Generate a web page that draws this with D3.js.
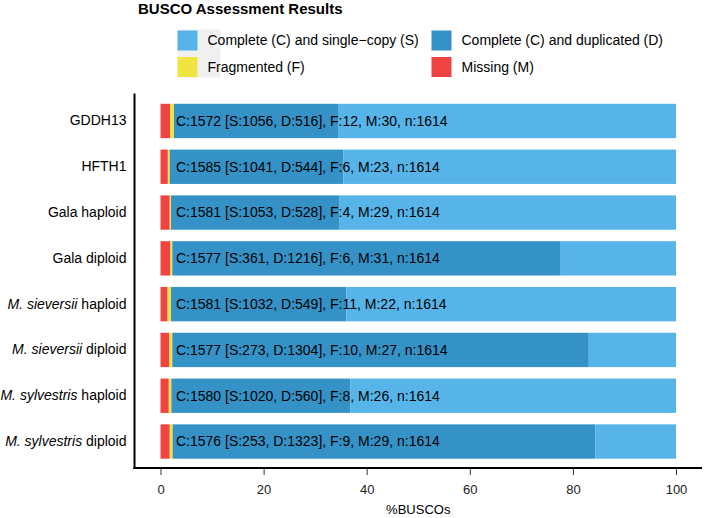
<!DOCTYPE html>
<html>
<head>
<meta charset="utf-8">
<script src="https://cdn.jsdelivr.net/npm/d3@7"></script>
<style>
  html, body { margin: 0; padding: 0; background: #fff; }
  svg { display: block; font-family: "Liberation Sans", Arial, sans-serif; }
</style>
</head>
<body>
<svg id="chart" width="704" height="518"></svg>
<script>
// ---- data ----
const categories = [
  "GDDH13", "HFTH1", "Gala haploid", "Gala diploid",
  "M. sieversii haploid", "M. sieversii diploid",
  "M. sylvestris haploid", "M. sylvestris diploid"
];
const italicParts = ["", "", "", "", "M. sieversii", "M. sieversii", "M. sylvestris", "M. sylvestris"];
const singleCopy = [1056, 1041, 1053, 361, 1032, 273, 1020, 253];
const duplicated = [516, 544, 528, 1216, 549, 1304, 560, 1323];
const fragmented = [12, 6, 4, 6, 11, 10, 8, 9];
const missing = [30, 23, 29, 31, 22, 27, 26, 29];
const totalN = [1614, 1614, 1614, 1614, 1614, 1614, 1614, 1614];
const xTicks = [0, 20, 40, 60, 80, 100];
const seriesKeys = ["M", "F", "D", "S"];
const seriesNames = {
  S: "Complete (C) and single\u2212copy (S)",
  D: "Complete (C) and duplicated (D)",
  F: "Fragmented (F)",
  M: "Missing (M)"
};
const seriesColors = { S: "#56B4E9", D: "#3492C7", F: "#F0E442", M: "#F04442" };

// ---- build table ----
const rows = categories.map((c, i) => ({
  cat: c,
  M: missing[i] / totalN[i] * 100,
  F: fragmented[i] / totalN[i] * 100,
  D: duplicated[i] / totalN[i] * 100,
  S: singleCopy[i] / totalN[i] * 100,
  label: `C:${singleCopy[i] + duplicated[i]} [S:${singleCopy[i]}, D:${duplicated[i]}], F:${fragmented[i]}, M:${missing[i]}, n:${totalN[i]}`
}));
const stacked = d3.stack().keys(seriesKeys)(rows);

const svg = d3.select("#chart");
const x = d3.scaleLinear().domain([0, 100]).range([160.5, 676]);
const y = d3.scaleBand().domain(categories).range([93.5, 469])
  .paddingInner(0.25).paddingOuter(0.225);

// ---- bars ----
svg.append("g").selectAll("g").data(stacked).join("g")
  .attr("fill", d => seriesColors[d.key])
  .selectAll("rect").data(d => d).join("rect")
  .attr("x", d => x(d[0]))
  .attr("width", d => x(d[1]) - x(d[0]))
  .attr("y", d => y(d.data.cat))
  .attr("height", y.bandwidth());

// ---- bar labels ----
svg.append("g").selectAll("text").data(rows).join("text")
  .attr("x", x(3))
  .attr("y", d => y(d.cat) + y.bandwidth() / 2)
  .attr("dy", "0.35em")
  .attr("font-size", 14)
  .attr("fill", "#000")
  .text(d => d.label);

// ---- x axis ----
const xAxisY = 468;
const gx = svg.append("g").attr("transform", `translate(0,${xAxisY})`)
  .call(d3.axisBottom(x).tickValues(xTicks).tickSize(7).tickPadding(10).tickFormat(d3.format("d")));
gx.select(".domain").remove();
gx.selectAll(".tick line").attr("stroke", "#333").attr("stroke-width", 1);
gx.selectAll(".tick text").attr("font-size", 13).attr("fill", "#222")
  .attr("font-family", "Liberation Sans, Arial, sans-serif");

// ---- y axis ----
const gy = svg.append("g").attr("transform", "translate(134.5,0)")
  .call(d3.axisLeft(y).tickSize(0).tickPadding(8));
gy.select(".domain").remove();
gy.selectAll(".tick text").each(function(d, i) {
  const t = d3.select(this);
  const idx = categories.indexOf(d);
  const it = italicParts[idx];
  t.text(null).attr("font-size", 14).attr("fill", "#000")
    .attr("font-family", "Liberation Sans, Arial, sans-serif");
  if (it) {
    t.append("tspan").attr("font-style", "italic").text(it);
    t.append("tspan").text(d.slice(it.length));
  } else {
    t.append("tspan").text(d);
  }
});

// axis lines
svg.append("line").attr("x1", 134.5).attr("x2", 134.5).attr("y1", 93.5).attr("y2", 469)
  .attr("stroke", "#000").attr("stroke-width", 2);
svg.append("line").attr("x1", 133.5).attr("x2", 702).attr("y1", xAxisY).attr("y2", xAxisY)
  .attr("stroke", "#000").attr("stroke-width", 2);

// x title
svg.append("text").attr("x", (x(0) + x(100)) / 2).attr("y", 514)
  .attr("text-anchor", "middle").attr("font-size", 13).attr("fill", "#000")
  .text("%BUSCOs");

// ---- title ----
svg.append("text").attr("x", 138).attr("y", 14)
  .attr("font-size", 15).attr("font-weight", "bold").attr("fill", "#000")
  .text("BUSCO Assessment Results");

// ---- legend ----
const legendItems = [
  { key: "S", col: 0, row: 0 }, { key: "D", col: 1, row: 0 },
  { key: "F", col: 0, row: 1 }, { key: "M", col: 1, row: 1 }
];
const colX = [177.5, 431.5];
const rowY = [30.5, 57];
svg.append("rect").attr("x", 177.5).attr("y", 29.5).attr("width", 43).attr("height", 48)
  .attr("fill", "#f0f0f0");
const lg = svg.append("g").selectAll("g").data(legendItems).join("g")
  .attr("transform", d => `translate(${colX[d.col]},${rowY[d.row]})`);
lg.append("rect").attr("width", 20).attr("height", 20).attr("fill", d => seriesColors[d.key]);
lg.append("text").attr("x", 30).attr("y", 10).attr("dy", "0.35em")
  .attr("font-size", 14).attr("fill", "#000").text(d => seriesNames[d.key]);
</script>
</body>
</html>
